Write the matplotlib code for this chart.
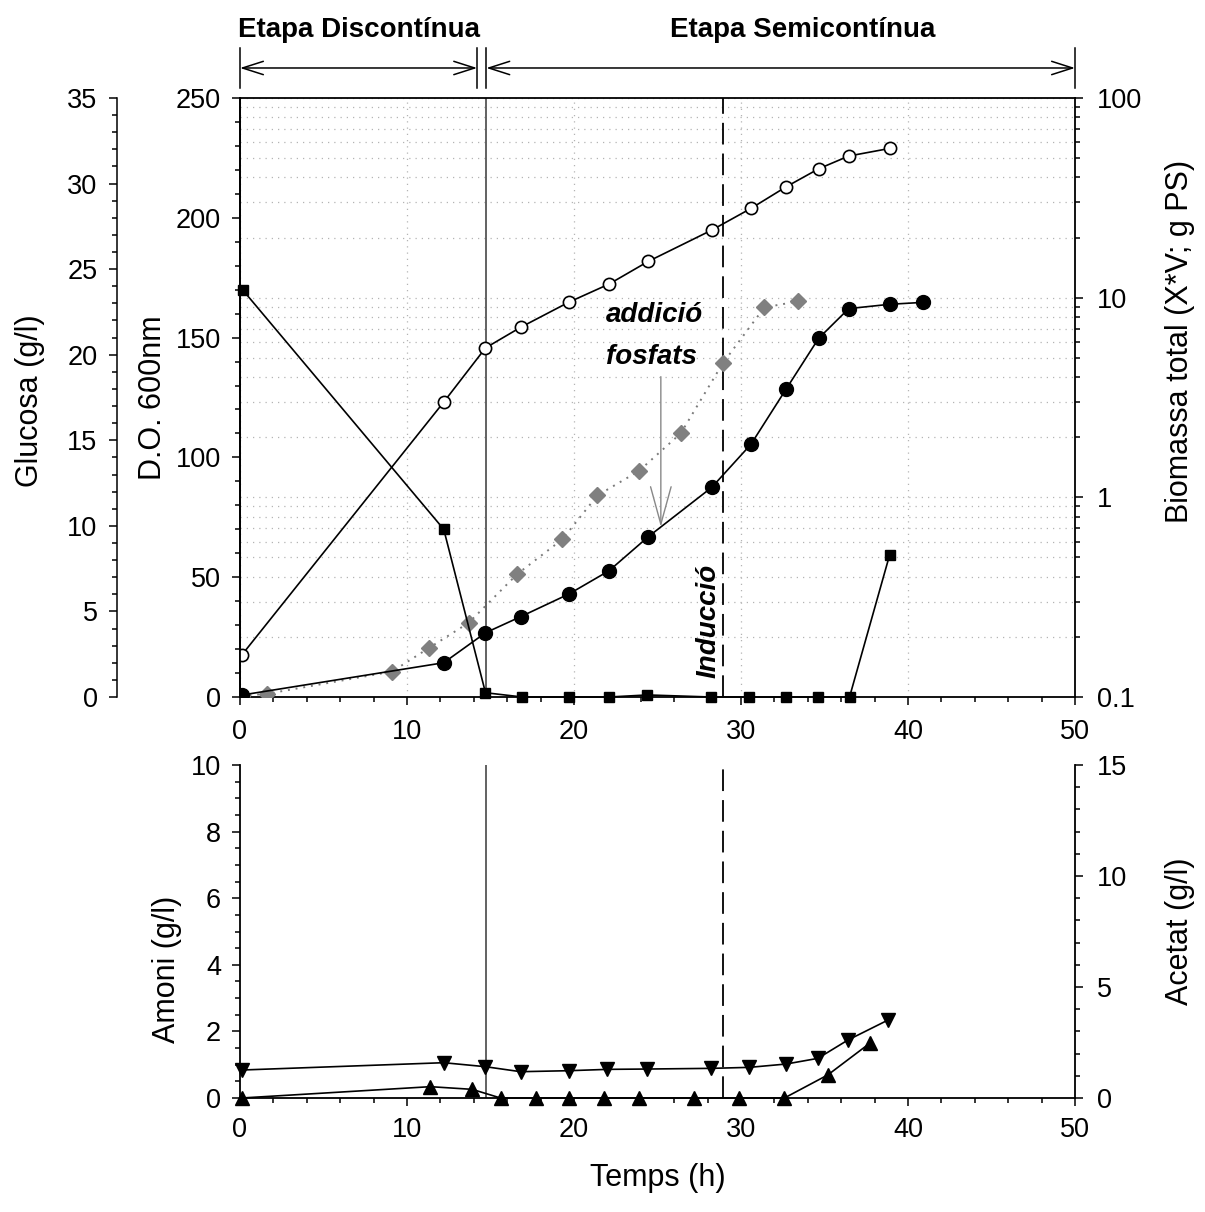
import matplotlib
matplotlib.use("Agg")
import matplotlib.pyplot as plt
from matplotlib.ticker import MultipleLocator, LogLocator, FuncFormatter, NullFormatter

plt.rcParams['font.family'] = ['Liberation Sans', 'DejaVu Sans']

# ---------------- data ----------------
# Glucose (g/l)
t_glu = [0.15, 12.2, 14.7, 16.9, 19.7, 22.1, 24.4, 28.2, 30.5, 32.7, 34.6, 36.5, 38.9]
glucosa = [23.8, 9.8, 0.25, 0.0, 0.0, 0.0, 0.12, 0.0, 0.0, 0.0, 0.0, 0.0, 8.3]

# Total biomass X*V (g dry weight), log scale
t_bio = [0.1, 12.2, 14.7, 16.8, 19.7, 22.1, 24.45, 28.25, 30.6, 32.7, 34.65, 36.45, 38.9]
biomassa = [0.162, 3.0, 5.6, 7.1, 9.5, 11.7, 15.2, 21.8, 28.0, 35.9, 44.2, 51.2, 55.9]

# Optical density at 600 nm
t_do = [0.1, 12.2, 14.7, 16.8, 19.7, 22.1, 24.45, 28.25, 30.6, 32.7, 34.65, 36.45, 38.9, 40.9]
do600 = [0.8, 14.3, 26.8, 33.5, 43.0, 52.7, 66.9, 87.5, 105.5, 128.5, 149.7, 162.1, 163.9, 164.7]

# Optical density, reference culture (grey diamonds)
t_do_ref = [0.1, 1.6, 9.1, 11.3, 13.7, 16.6, 19.3, 21.4, 23.9, 26.4, 28.9, 31.4, 33.4]
do600_ref = [0.5, 1.3, 10.6, 20.4, 31.0, 51.3, 65.8, 84.1, 94.4, 110.1, 139.2, 162.6, 165.1]

# Ammonium (g/l)
t_amoni = [0.1, 12.2, 14.7, 16.8, 19.7, 22.0, 24.4, 28.2, 30.5, 32.7, 34.6, 36.4, 38.8]
amoni = [0.84, 1.06, 0.94, 0.79, 0.82, 0.86, 0.87, 0.89, 0.92, 1.02, 1.19, 1.74, 2.34]

# Acetate (g/l)
t_acetat = [0.1, 11.4, 13.9, 15.6, 17.7, 19.7, 21.8, 23.9, 27.2, 29.9, 32.6, 35.2, 37.7]
acetat = [0.0, 0.51, 0.39, 0.0, 0.0, 0.0, 0.0, 0.0, 0.0, 0.0, 0.0, 1.04, 2.46]

# Process events (h)
t_fi_discontinua = 14.2
t_inici_semicontinua = 14.75
t_induccio = 28.9
t_fosfats = 25.2
do_fosfats = 71.0

# ---------------- styles ----------------
TICK_FS = 19.5
LABEL_FS = 22
NOTE_FS = 20
LW = 1.2

fig = plt.figure(figsize=(12.05, 12.12), dpi=100)
W_PX, H_PX = 1205, 1212
top_rect = [240 / W_PX, 1 - 697 / H_PX, 835 / W_PX, 599 / H_PX]
bot_rect = [240 / W_PX, 1 - 1098 / H_PX, 835 / W_PX, 333 / H_PX]


def style_ticks(ax, axis, pad=7):
    ax.tick_params(axis=axis, which='major', direction='out', length=6, width=1.1,
                   labelsize=TICK_FS, pad=pad)
    ax.tick_params(axis=axis, which='minor', direction='out', length=3.8, width=1.1)


# ---------------- top panel ----------------
ax_bio = fig.add_axes(top_rect)
ax_do = ax_bio.twinx()
ax_glu = ax_bio.twinx()

ax_bio.set_xlim(0, 50)
ax_bio.set_yscale('log')
ax_bio.set_ylim(0.1, 100)
ax_bio.yaxis.tick_right()
ax_bio.yaxis.set_label_position('right')
ax_bio.yaxis.set_major_locator(LogLocator(base=10))
ax_bio.yaxis.set_minor_locator(LogLocator(base=10, subs=range(2, 10)))
ax_bio.yaxis.set_major_formatter(FuncFormatter(lambda v, p: '%g' % v))
ax_bio.yaxis.set_minor_formatter(NullFormatter())
ax_bio.xaxis.set_major_locator(MultipleLocator(10))
ax_bio.xaxis.set_minor_locator(MultipleLocator(2))
style_ticks(ax_bio, 'y', pad=10)
style_ticks(ax_bio, 'x', pad=10)
ax_bio.grid(which='both', axis='y', color='#b4b4b4', ls=(0, (1, 4)), lw=0.9)
ax_bio.grid(which='major', axis='x', color='#b4b4b4', ls=(0, (1, 4)), lw=0.9)
ax_bio.set_axisbelow(True)
for s in ax_bio.spines.values():
    s.set_linewidth(1.3)
ax_bio.set_ylabel('Biomassa total (X*V; g PS)', fontsize=LABEL_FS)
ax_bio.yaxis.set_label_coords(1.108, 0.593)

# OD axis (left, inner)
ax_do.set_ylim(0, 250)
ax_do.yaxis.tick_left()
ax_do.yaxis.set_label_position('left')
ax_do.yaxis.set_major_locator(MultipleLocator(50))
ax_do.yaxis.set_minor_locator(MultipleLocator(10))
style_ticks(ax_do, 'y', pad=7.5)
for k in ('top', 'right', 'bottom'):
    ax_do.spines[k].set_visible(False)
ax_do.spines['left'].set_linewidth(1.3)
ax_do.set_ylabel('D.O. 600nm', fontsize=LABEL_FS)
ax_do.yaxis.set_label_coords(-0.0862, 0.5)

# Glucose axis (left, outer)
ax_glu.set_ylim(0, 35)
ax_glu.yaxis.tick_left()
ax_glu.yaxis.set_label_position('left')
ax_glu.spines['left'].set_position(('axes', -123 / 835))
ax_glu.spines['left'].set_visible(True)
ax_glu.spines['left'].set_linewidth(1.1)
for k in ('top', 'right', 'bottom'):
    ax_glu.spines[k].set_visible(False)
ax_glu.yaxis.set_major_locator(MultipleLocator(5))
ax_glu.yaxis.set_minor_locator(MultipleLocator(1))
style_ticks(ax_glu, 'y', pad=8)
ax_glu.set_ylabel('Glucosa (g/l)', fontsize=LABEL_FS)
ax_glu.yaxis.set_label_coords(-0.2335, 0.495)

# event lines
ax_bio.axvline(t_inici_semicontinua, color='#555555', lw=1.3, zorder=1)
ax_bio.axvline(t_induccio, color='black', lw=1.3, ls=(0, (12, 5)), zorder=1)

# series
ax_do.plot(t_do_ref, do600_ref, ls=(0, (1, 3)), color='#7a7a7a', lw=1.4,
           marker='D', ms=8.6, mfc='#808080', mec='#808080', zorder=3)
ax_do.plot(t_do, do600, '-', color='black', lw=LW, marker='o', ms=10,
           mfc='black', mec='black', zorder=4)
ax_bio.plot(t_bio, biomassa, '-', color='black', lw=LW, marker='o', ms=8.8,
            mfc='white', mec='black', mew=1.2, zorder=4)
ax_glu.plot(t_glu, glucosa, '-', color='black', lw=LW, marker='s', ms=7.4,
            mfc='black', mec='black', zorder=5, clip_on=False)

# phosphate addition
ax_do.annotate('', xy=(t_fosfats, do_fosfats), xytext=(t_fosfats, 133.7),
               arrowprops=dict(arrowstyle='->,head_length=1.35,head_width=0.37',
                               mutation_scale=20, color='#888888', lw=1.0,
                               shrinkA=0, shrinkB=0))
ax_do.text(21.9, 159.4, 'addició', fontsize=NOTE_FS, fontweight='bold',
           fontstyle='italic', ha='left', va='center')
ax_do.text(21.9, 141.9, 'fosfats', fontsize=NOTE_FS, fontweight='bold',
           fontstyle='italic', ha='left', va='center')
ax_do.text(28.05, 31.7, 'Inducció', fontsize=NOTE_FS, fontweight='bold',
           fontstyle='italic', rotation=90, ha='center', va='center')

# phase brackets above the plot
xtr = ax_bio.get_xaxis_transform()
for tx in (0, t_fi_discontinua, t_inici_semicontinua, 50):
    ax_bio.plot([tx, tx], [1.0167, 1.0835], transform=xtr, color='black',
                lw=1.1, clip_on=False)
arrow_kw = dict(arrowstyle='<->,head_length=0.75,head_width=0.24',
                mutation_scale=20, color='black', lw=1.1, shrinkA=0, shrinkB=0)
ax_bio.annotate('', xy=(t_fi_discontinua, 1.0501), xytext=(0, 1.0501),
                xycoords=xtr, textcoords=xtr, arrowprops=arrow_kw,
                annotation_clip=False)
ax_bio.annotate('', xy=(50, 1.0501), xytext=(t_inici_semicontinua, 1.0501),
                xycoords=xtr, textcoords=xtr, arrowprops=arrow_kw,
                annotation_clip=False)
ax_bio.text(7.15, 1.1135, 'Etapa Discontínua', transform=xtr, fontsize=NOTE_FS,
            fontweight='bold', ha='center', va='center')
ax_bio.text(33.7, 1.1135, 'Etapa Semicontínua', transform=xtr, fontsize=NOTE_FS,
            fontweight='bold', ha='center', va='center')

# ---------------- bottom panel ----------------
ax_am = fig.add_axes(bot_rect)
ax_ac = ax_am.twinx()
ax_am.yaxis.tick_left()

ax_am.set_xlim(0, 50)
ax_am.set_ylim(0, 10)
ax_am.xaxis.set_major_locator(MultipleLocator(10))
ax_am.xaxis.set_minor_locator(MultipleLocator(2))
ax_am.yaxis.set_major_locator(MultipleLocator(2))
ax_am.yaxis.set_minor_locator(MultipleLocator(0.5))
style_ticks(ax_am, 'x', pad=8)
style_ticks(ax_am, 'y', pad=7.5)
ax_am.spines['top'].set_visible(False)
ax_am.spines['right'].set_visible(False)
for k in ('left', 'bottom'):
    ax_am.spines[k].set_linewidth(1.3)
ax_am.set_ylabel('Amoni (g/l)', fontsize=LABEL_FS)
ax_am.yaxis.set_label_coords(-0.0695, 0.386)
ax_am.set_xlabel('Temps (h)', fontsize=LABEL_FS, labelpad=14)

ax_ac.set_ylim(0, 15)
ax_ac.yaxis.set_major_locator(MultipleLocator(5))
ax_ac.yaxis.set_minor_locator(MultipleLocator(1))
style_ticks(ax_ac, 'y', pad=10)
for k in ('top', 'left', 'bottom'):
    ax_ac.spines[k].set_visible(False)
ax_ac.spines['right'].set_linewidth(1.3)
ax_ac.set_ylabel('Acetat (g/l)', fontsize=LABEL_FS)
ax_ac.yaxis.set_label_coords(1.108, 0.5)

ax_am.axvline(t_inici_semicontinua, color='#555555', lw=1.3, zorder=1)
ax_am.axvline(t_induccio, color='black', lw=1.3, ls=(0, (12, 5)), zorder=1)

ax_am.plot(t_amoni, amoni, '-', color='black', lw=LW, marker='v', ms=10.5,
           mfc='black', mec='black', zorder=4, clip_on=False)
ax_ac.plot(t_acetat, acetat, '-', color='black', lw=LW, marker='^', ms=10.5,
           mfc='black', mec='black', zorder=4, clip_on=False)

fig.savefig('out.png', dpi=100)
